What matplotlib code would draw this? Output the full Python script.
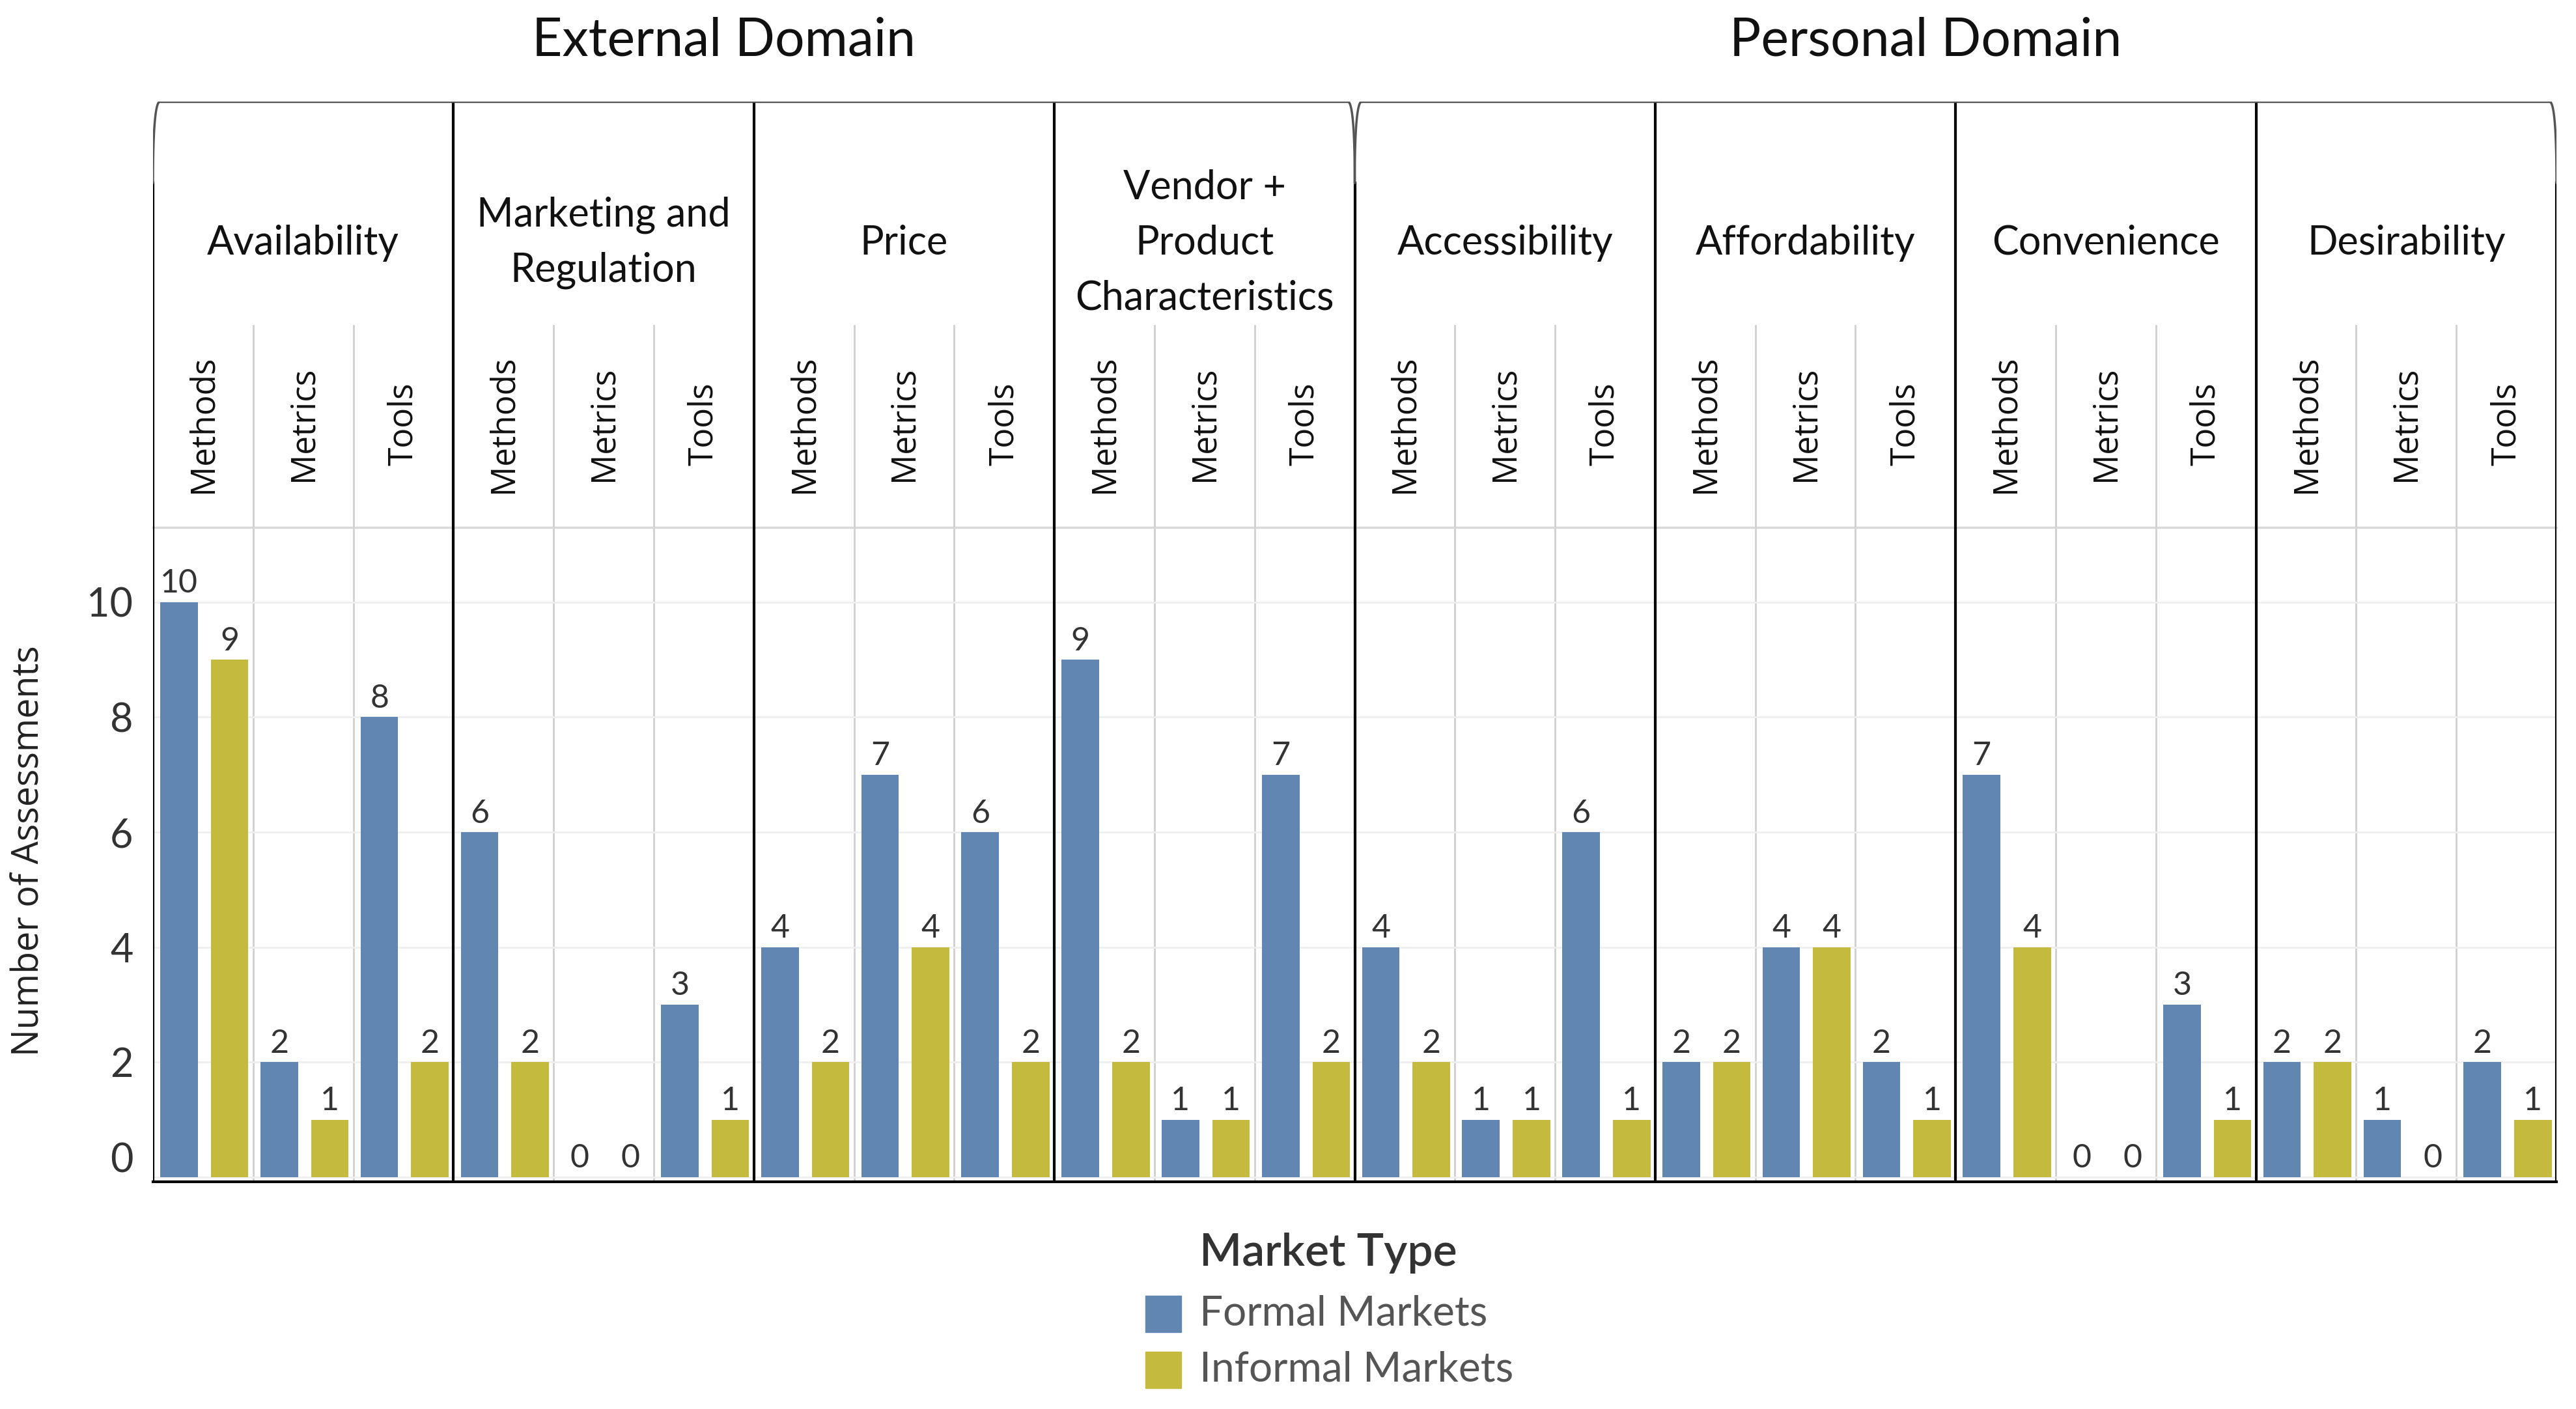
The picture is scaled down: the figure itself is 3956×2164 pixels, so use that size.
import numpy as np
import matplotlib
matplotlib.use("Agg")
import matplotlib.pyplot as plt
from matplotlib.patches import Rectangle
from matplotlib.transforms import ScaledTranslation

domains = ['External Domain', 'Personal Domain']
categories = ['Availability', 'Marketing and\nRegulation', 'Price',
              'Vendor +\nProduct\nCharacteristics', 'Accessibility',
              'Affordability', 'Convenience', 'Desirability']
cat_domain = [0, 0, 0, 0, 1, 1, 1, 1]
subtypes = ['Methods', 'Metrics', 'Tools']

formal = [10, 2, 8, 6, 0, 3, 4, 7, 6, 9, 1, 7,
          4, 1, 6, 2, 4, 2, 7, 0, 3, 2, 1, 2]
informal = [9, 1, 2, 2, 0, 1, 2, 4, 2, 2, 1, 2,
            2, 1, 1, 2, 4, 1, 4, 0, 1, 2, 0, 1]
series_names = ['Formal Markets', 'Informal Markets']
colors = ['#6286B2', '#C4BA3D']

W, H = 3956, 2164
fig = plt.figure(figsize=(W / 100, H / 100), dpi=100)
plt.rcParams['font.family'] = ['Lato', 'DejaVu Sans']

x_left, x_right = 235, 3926
y_top_plot, y_bot_plot = 810, 1815
y_top_head = 156

ax = fig.add_axes([x_left / W, 1 - y_bot_plot / H, (x_right - x_left) / W,
                   (y_bot_plot - y_top_plot) / H])
hax = fig.add_axes([x_left / W, 1 - y_top_plot / H, (x_right - x_left) / W,
                    (y_top_plot - y_top_head) / H])

n_sub = len(formal)
pos = np.arange(n_sub)
bw = 0.375
ax.bar(pos + 0.26, formal, width=bw, color=colors[0], zorder=3)
ax.bar(pos + 0.765, informal, width=bw, color=colors[1], zorder=3)

for vals, off in [(formal, 0.26), (informal, 0.765)]:
    for p, v in zip(pos, vals):
        ax.annotate(str(v), (p + off, v), xytext=(0, 4), textcoords='offset points',
                    ha='center', va='bottom', fontsize=36, color='#333333')

ax.set_xlim(0, n_sub)
ax.set_ylim(-0.08, 11.3)
ax.set_yticks([0, 2, 4, 6, 8, 10])
ax.tick_params(axis='y', length=0, labelsize=44, labelcolor='#333333', pad=22)
ax.set_xticks([])
for lbl in ax.get_yticklabels():
    if lbl.get_text() == '0':
        lbl.set_transform(lbl.get_transform() + ScaledTranslation(0, 0.3, fig.dpi_scale_trans))
for s in ['top', 'right', 'left']:
    ax.spines[s].set_visible(False)
ax.spines['bottom'].set_linewidth(3)
ax.spines['bottom'].set_color('black')
ax.grid(axis='y', color='#efefef', linewidth=2, zorder=0)
ax.axhline(11.3, color='#d9d9d9', linewidth=2.5, clip_on=False)

# separators inside plot
for k in range(1, n_sub):
    if k % 3 == 0:
        ax.axvline(k, color='black', linewidth=3, zorder=4)
    else:
        ax.axvline(k, color='#cfcfcf', linewidth=2, zorder=1)
ax.axvline(0, color='black', linewidth=3, zorder=4)
ax.axvline(n_sub, color='black', linewidth=3, zorder=4)

# header
hax.set_xlim(0, n_sub)
hax.set_ylim(0, 1)
hax.axis('off')
y_curve = 1 - (281 - y_top_head) / (y_top_plot - y_top_head)
dx = 0.07
for k in range(1, n_sub):
    if k % 3 == 0 and k != 12:
        hax.plot([k, k], [0, 1], color='black', linewidth=3)
    elif k % 3 != 0:
        hax.plot([k, k], [0, 0.474], color='#cfcfcf', linewidth=2)


def corner(x0, side):
    s = np.linspace(0, 1, 30)
    ax0, ay0 = x0 + side * dx, 1
    cx, cy = x0, 1
    bx, by = x0, y_curve
    xs = (1 - s) ** 2 * ax0 + 2 * s * (1 - s) * cx + s ** 2 * bx
    ys = (1 - s) ** 2 * ay0 + 2 * s * (1 - s) * cy + s ** 2 * by
    hax.plot(xs, ys, color='#555555', linewidth=2.5, solid_capstyle='round')


for x0 in [0, 12, n_sub]:
    hax.plot([x0, x0], [0, y_curve], color='black', linewidth=3)
corner(0, 1)
corner(12, -1)
corner(12, 1)
corner(n_sub, -1)
hax.plot([dx, 12 - dx], [1, 1], color='#555555', linewidth=2.5)
hax.plot([12 + dx, n_sub - dx], [1, 1], color='#555555', linewidth=2.5)

for i, c in enumerate(categories):
    hax.text(3 * i + 1.5, 0.668, c, ha='center', va='center', fontsize=44,
             color='#111111', linespacing=1.6)
    for j, st in enumerate(subtypes):
        hax.text(3 * i + j + 0.5, 0.243, st, ha='center', va='center', rotation=90,
                 fontsize=37, color='#111111', family=['Open Sans', 'DejaVu Sans'])

for d, name in enumerate(domains):
    hax.text(12 * d + 6 - 0.3, 1 + (156 - 63) / (y_top_plot - y_top_head), name,
             ha='center', va='center', fontsize=58, color='#111111', clip_on=False)

fig.text(45 / W, 1 - 1307 / H, 'Number of Assessments', rotation=90, ha='center',
         va='center', fontsize=40, color='#222222', family=['Open Sans', 'DejaVu Sans'])

# legend
fig.text(1842 / W, 1 - 1925 / H, 'Market Type', ha='left', va='center', fontsize=50,
         fontweight='semibold', color='#333333')
for k, (name, col) in enumerate(zip(series_names, colors)):
    yc = [2018, 2104][k]
    fig.patches.append(Rectangle((1759 / W, 1 - (yc + 28) / H), 55 / W, 56 / H,
                                 transform=fig.transFigure, color=col))
    fig.text(1842 / W, 1 - yc / H, name, ha='left', va='center', fontsize=46,
             color='#555555')

fig.savefig('out.png', dpi=100, facecolor='white')
